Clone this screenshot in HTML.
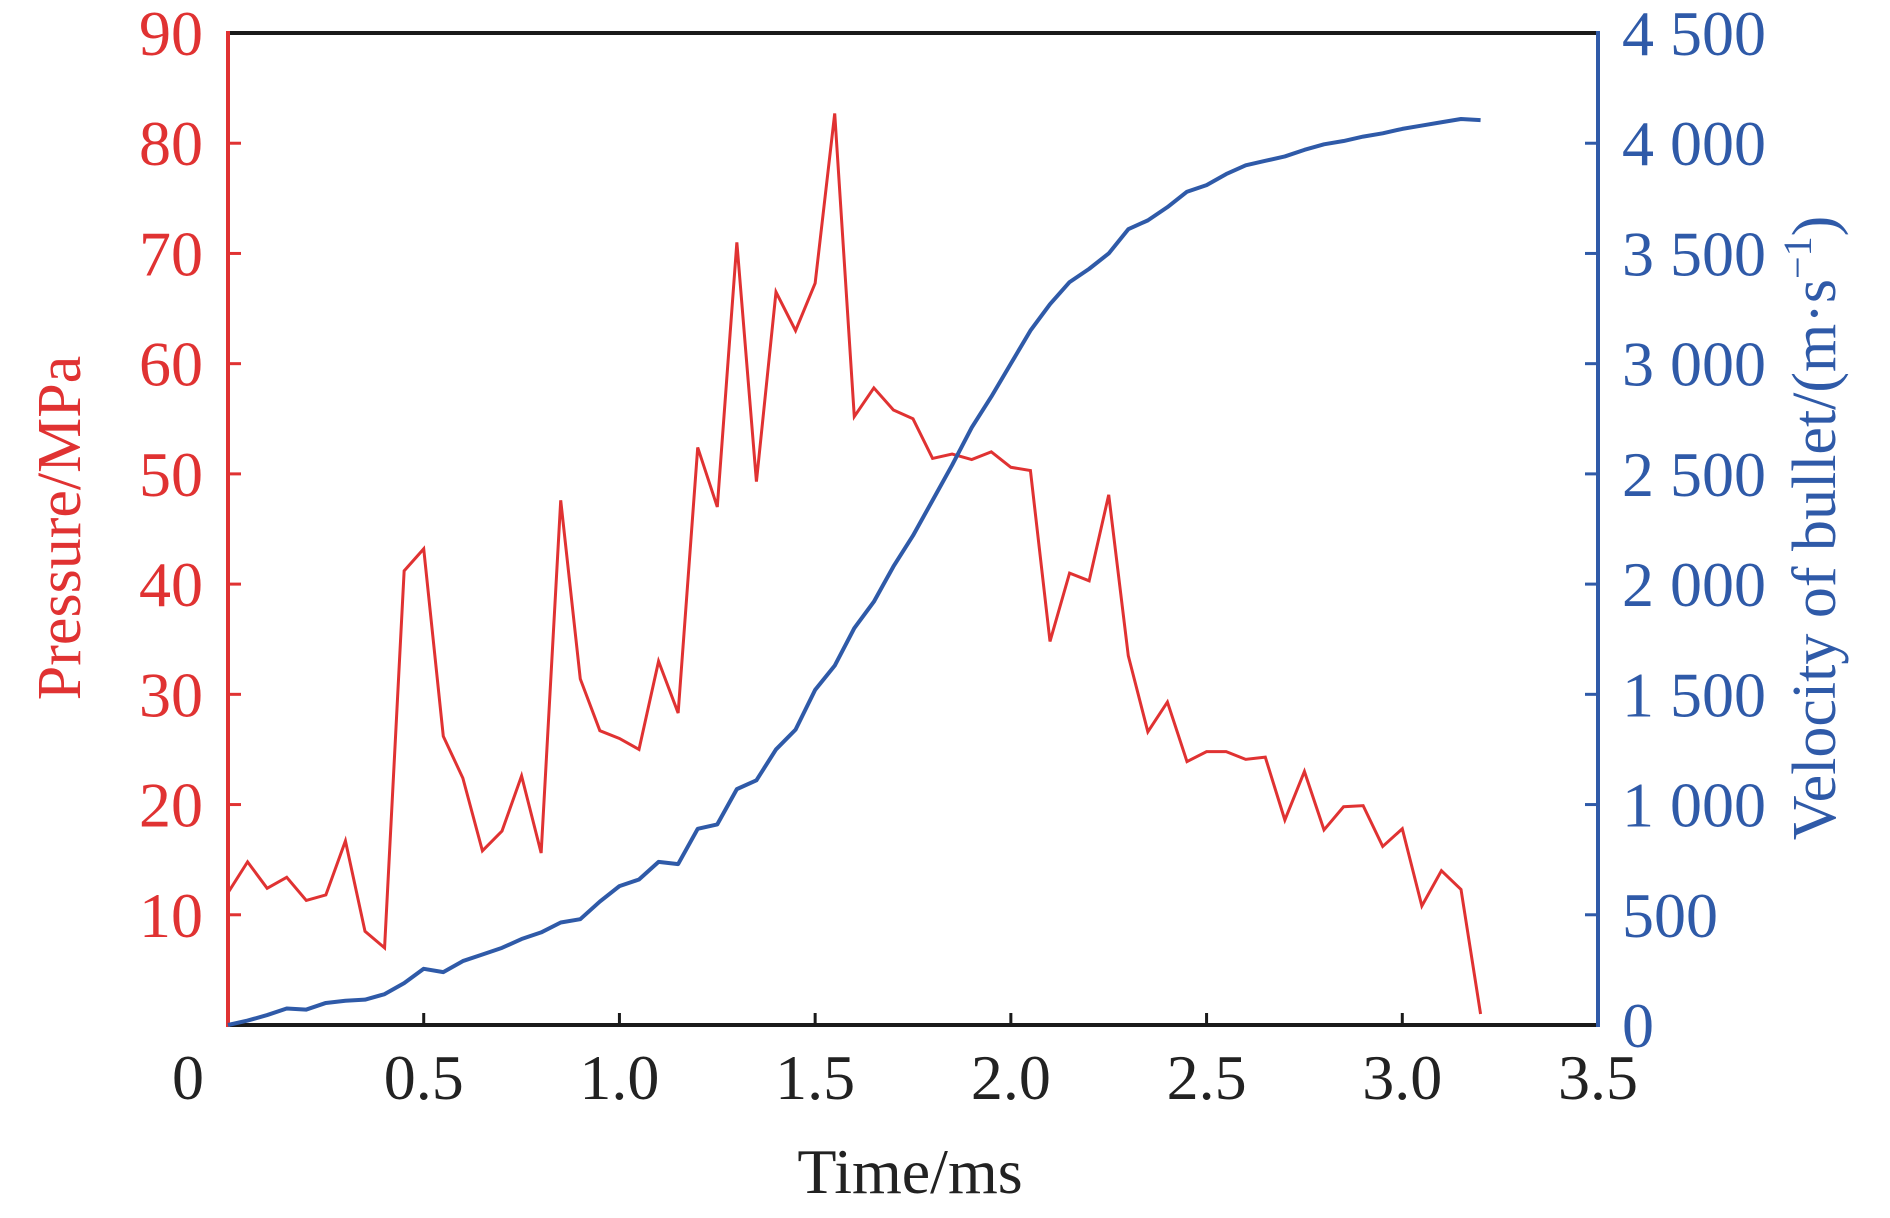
<!DOCTYPE html>
<html><head><meta charset="utf-8"><style>
html,body{margin:0;padding:0;background:#fff;}
svg text{font-family:"Liberation Serif",serif;}
</style></head><body>
<svg id="chart" width="1890" height="1213" xmlns="http://www.w3.org/2000/svg">
<g id="axes"></g>
<g id="series"></g>
<text x="910" y="1193" font-size="64" text-anchor="middle" fill="#222">Time/ms</text>
<text transform="translate(80,528) rotate(-90)" font-size="62" text-anchor="middle" fill="#e03232">Pressure/MPa</text>
<text transform="translate(1835,528) rotate(-90)" font-size="62" text-anchor="middle" fill="#2f5aa8">Velocity of bullet/(m·s<tspan dy="-24" font-size="40">−1</tspan><tspan dy="24">)</tspan></text>
</svg>
<script>
const times = [0,0.05,0.1,0.15,0.2,0.25,0.3,0.35,0.4,0.45,0.5,0.55,0.6,0.65,0.7,0.75,0.8,0.85,0.9,0.95,1.0,1.05,1.1,1.15,1.2,1.25,1.3,1.35,1.4,1.45,1.5,1.55,1.6,1.65,1.7,1.75,1.8,1.85,1.9,1.95,2.0,2.05,2.1,2.15,2.2,2.25,2.3,2.35,2.4,2.45,2.5,2.55,2.6,2.65,2.7,2.75,2.8,2.85,2.9,2.95,3.0,3.05,3.1,3.15,3.2];
const pressure = [12,14.8,12.4,13.4,11.3,11.8,16.7,8.5,7,41.2,43.2,26.2,22.4,15.8,17.6,22.6,15.6,47.6,31.4,26.7,26,25,33,28.3,52.4,47,71,49.3,66.5,63,67.3,82.7,55.2,57.8,55.8,55,51.4,51.8,51.3,52,50.6,50.3,34.8,41,40.3,48.1,33.5,26.6,29.3,23.9,24.8,24.8,24.1,24.3,18.6,23,17.7,19.8,19.9,16.2,17.8,10.8,14,12.3,1];
const velocity = [0,20,45,75,70,100,110,115,140,190,255,240,290,320,350,390,420,465,480,560,630,660,740,730,890,910,1070,1110,1250,1340,1520,1630,1800,1920,2080,2220,2380,2540,2710,2850,3000,3150,3270,3370,3430,3500,3610,3650,3710,3780,3810,3860,3900,3920,3940,3970,3995,4010,4030,4045,4065,4080,4095,4110,4105];
const xTicks = [0,0.5,1.0,1.5,2.0,2.5,3.0,3.5];
const xTickLabels = ["0","0.5","1.0","1.5","2.0","2.5","3.0","3.5"];
const pTicks = [10,20,30,40,50,60,70,80,90];
const vTicks = [0,500,1000,1500,2000,2500,3000,3500,4000,4500];
const vTickLabels = ["0","500","1 000","1 500","2 000","2 500","3 000","3 500","4 000","4 500"];

const L=228,R=1598,T=33,B=1025;
const xs=t=>L+(t/3.5)*(R-L);
const yp=p=>B-(p/90)*(B-T);
const yv=v=>B-(v/4500)*(B-T);
const NS="http://www.w3.org/2000/svg";
const axes=document.getElementById('axes'), series=document.getElementById('series');
function mk(tag,attrs,parent){const e=document.createElementNS(NS,tag);for(const k in attrs)e.setAttribute(k,attrs[k]);parent.appendChild(e);return e;}

let e;
e=mk('line',{x1:L,y1:T,x2:R,y2:T,stroke:'#1a1a1a','stroke-width':4},axes);


e=mk('line',{x1:L,y1:B,x2:R,y2:B,stroke:'#1a1a1a','stroke-width':4},axes);


e=mk('line',{x1:L,y1:T-2,x2:L,y2:B+2,stroke:'#e03232','stroke-width':4},axes);


e=mk('line',{x1:R,y1:T-2,x2:R,y2:B+2,stroke:'#2f5aa8','stroke-width':4},axes);



xTicks.forEach((t,i)=>{
  if(t>0&&t<3.5){
    e=mk('line',{x1:xs(t),y1:B,x2:xs(t),y2:B-12,stroke:'#1a1a1a','stroke-width':3},axes);
    
    
  }
  e=mk('text',{x:xs(t)-(t===0?40:0),y:1099,'font-size':64,'text-anchor':'middle',fill:'#222'},axes);
  e.textContent=xTickLabels[i];
  
  
});
pTicks.forEach(p=>{
  if(p<90){
    e=mk('line',{x1:L,y1:yp(p),x2:L+13,y2:yp(p),stroke:'#e03232','stroke-width':3},axes);
    
    
  }
  e=mk('text',{x:203,y:yp(p)+22,'font-size':64,'text-anchor':'end',fill:'#e03232'},axes);
  e.textContent=String(p);
  
  
});
vTicks.forEach((v,i)=>{
  if(v>0&&v<4500){
    e=mk('line',{x1:R,y1:yv(v),x2:R-13,y2:yv(v),stroke:'#2f5aa8','stroke-width':3},axes);
    
    
  }
  e=mk('text',{x:1622,y:yv(v)+22,'font-size':64,'text-anchor':'start',fill:'#2f5aa8'},axes);
  e.textContent=vTickLabels[i];
  
  
});

e=mk('polyline',{points:times.map((t,i)=>xs(t)+','+yp(pressure[i])).join(' '),fill:'none',stroke:'#e03232','stroke-width':3,'stroke-linejoin':'miter'},series);


e=mk('polyline',{points:times.map((t,i)=>xs(t)+','+yv(velocity[i])).join(' '),fill:'none',stroke:'#2f5aa8','stroke-width':4,'stroke-linejoin':'round'},series);


</script>
</body></html>
